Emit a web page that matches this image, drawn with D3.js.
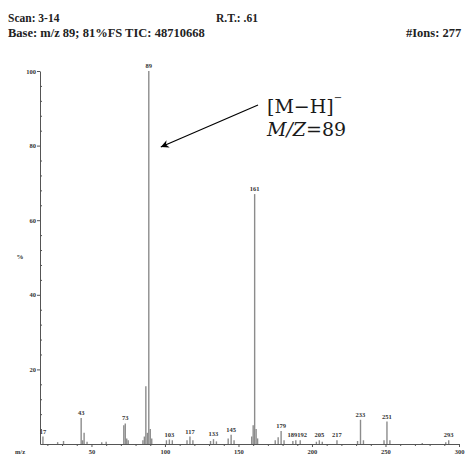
<!DOCTYPE html>
<html>
<head>
<meta charset="utf-8">
<script src="https://cdn.jsdelivr.net/npm/d3@7"></script>
<style>
  body { margin: 0; background: #fff; }
  svg { display: block; }
</style>
</head>
<body>
<div id="spectrum"></div>
<script>
// peak list (m/z, relative abundance %)
var mzValues = [17, 27, 31, 43, 44, 45, 47, 57, 60, 72, 73, 74, 75, 85, 86, 87, 88, 89, 90, 91,
  101, 103, 105, 115, 117, 119, 131, 133, 135, 143, 145, 147, 159, 160, 161, 162, 163,
  175, 177, 179, 181, 187, 189, 192, 203, 205, 207, 217, 231, 233, 235, 249, 251, 253, 275, 291, 293];
var abundance = [2, 0.5, 0.8, 7, 1, 3, 0.6, 0.5, 0.6, 5, 5.5, 1.5, 1, 1, 2, 15.5, 3, 100, 4, 1.5,
  1, 1.2, 1, 1, 2, 1, 0.8, 1.3, 0.7, 1.5, 2.5, 1, 2, 5, 67, 4, 1.5,
  1, 1.8, 3.5, 1, 0.8, 1, 1, 0.6, 1, 0.6, 1, 0.8, 6.5, 1, 1, 6, 1, 0.3, 0.5, 1];

// labelled peaks
var labelMz = [17, 43, 73, 89, 103, 117, 133, 145, 161, 179, 190, 205, 217, 233, 251, 293];
var labelText = ["17", "43", "73", "89", "103", "117", "133", "145", "161", "179", "189192", "205", "217", "233", "251", "293"];
var labelHeight = [2, 7, 5.5, 100, 1.2, 2, 1.3, 2.5, 67, 3.5, 1, 1, 1, 6.5, 6, 1];

var xTicks = [50, 100, 150, 200, 250, 300];
var yTicks = [20, 40, 60, 80, 100];

var width = 471, height = 456;

var svg = d3.select('#spectrum').append('svg')
    .attr('width', width)
    .attr('height', height);

var x = d3.scaleLinear().domain([15, 300]).range([40, 459]);
var y = d3.scaleLinear().domain([0, 100]).range([444, 71]);

var serif = "'Liberation Serif', 'Times New Roman', serif";

// header text
var header = svg.append('g')
    .attr('font-family', serif)
    .attr('font-weight', 'bold')
    .attr('fill', '#222');
header.append('text').attr('x', 8).attr('y', 22).attr('font-size', 11.5).text('Scan: 3-14');
header.append('text').attr('x', 216).attr('y', 22).attr('font-size', 11.5).text('R.T.: .61');
header.append('text').attr('x', 8).attr('y', 37).attr('font-size', 12.5).text('Base: m/z 89; 81%FS  TIC: 48710668');
header.append('text').attr('x', 406).attr('y', 37).attr('font-size', 12.5).text('#Ions: 277');

// peaks
var peaks = d3.zip(mzValues, abundance);
svg.append('g')
    .selectAll('line')
    .data(peaks)
    .join('line')
    .attr('x1', d => x(d[0]))
    .attr('x2', d => x(d[0]))
    .attr('y1', y(0))
    .attr('y2', d => y(d[1]))
    .attr('stroke', '#8c8c8c')
    .attr('stroke-width', 1.4);

// axes
var yAxis = d3.axisLeft(y)
    .tickValues(yTicks)
    .tickSize(3)
    .tickSizeOuter(0)
    .tickPadding(1);
var yMinor = d3.axisRight(y)
    .tickValues(d3.range(4, 100, 4).filter(v => v % 20 !== 0))
    .tickSize(2)
    .tickFormat('');

var yg = svg.append('g')
    .attr('transform', 'translate(' + x(15) + ',0)')
    .call(yAxis);
svg.append('g')
    .attr('transform', 'translate(' + x(15) + ',0)')
    .call(yMinor)
    .call(g => g.select('.domain').remove());
yg.selectAll('text')
    .attr('font-family', serif)
    .attr('font-weight', 'bold')
    .attr('font-size', 6.5)
    .attr('fill', '#333');

var xAxis = d3.axisBottom(x)
    .tickValues(xTicks)
    .tickSize(3)
    .tickSizeOuter(0)
    .tickPadding(2);
var xMinor = d3.axisBottom(x)
    .tickValues(d3.range(20, 300, 10).filter(v => v % 50 !== 0))
    .tickSize(2)
    .tickFormat('');

var xg = svg.append('g')
    .attr('transform', 'translate(0,' + y(0) + ')')
    .call(xAxis);
svg.append('g')
    .attr('transform', 'translate(0,' + y(0) + ')')
    .call(xMinor)
    .call(g => g.select('.domain').remove());
xg.selectAll('text')
    .attr('font-family', serif)
    .attr('font-weight', 'bold')
    .attr('font-size', 6.5)
    .attr('fill', '#333');

svg.selectAll('.domain, .tick line').attr('stroke', '#555');

svg.append('text')
    .attr('x', 20).attr('y', 259)
    .attr('text-anchor', 'middle')
    .attr('font-family', serif).attr('font-weight', 'bold')
    .attr('font-size', 7).attr('fill', '#333')
    .text('%');
svg.append('text')
    .attr('x', 20).attr('y', 454)
    .attr('text-anchor', 'middle')
    .attr('font-family', serif).attr('font-weight', 'bold')
    .attr('font-size', 6.5).attr('fill', '#333')
    .text('m/z');

// peak labels
svg.append('g')
    .selectAll('text')
    .data(d3.zip(labelMz, labelText, labelHeight))
    .join('text')
    .attr('x', d => x(d[0]))
    .attr('y', d => Math.min(y(d[2]) - 3, 437))
    .attr('text-anchor', 'middle')
    .attr('font-family', serif)
    .attr('font-weight', 'bold')
    .attr('font-size', 6.5)
    .attr('fill', '#333')
    .text(d => d[1]);

// annotation for the molecular ion
svg.append('defs').append('marker')
    .attr('id', 'head')
    .attr('viewBox', '0 0 10 10')
    .attr('refX', 10).attr('refY', 5)
    .attr('markerWidth', 12).attr('markerHeight', 8)
    .attr('markerUnits', 'userSpaceOnUse')
    .attr('orient', 'auto')
    .append('path')
    .attr('d', 'M0,0 L10,5 L0,10 L3,5 Z')
    .attr('fill', '#000');

svg.append('line')
    .attr('x1', 258).attr('y1', 105)
    .attr('x2', x(89) + 12).attr('y2', 147)
    .attr('stroke', '#000')
    .attr('stroke-width', 1.2)
    .attr('marker-end', 'url(#head)');

var note = svg.append('g')
    .attr('font-family', "'DejaVu Serif', serif")
    .attr('font-size', 19)
    .attr('fill', '#1a1a1a');
var t1 = note.append('text').attr('x', 267).attr('y', 113);
t1.append('tspan').text('[M\u2212H]');
t1.append('tspan').attr('font-size', 10).attr('dy', -12).text('\u2212');
var t2 = note.append('text').attr('x', 267).attr('y', 136);
t2.append('tspan').attr('font-style', 'italic').text('M/Z');
t2.append('tspan').text('=89');
</script>
</body>
</html>
